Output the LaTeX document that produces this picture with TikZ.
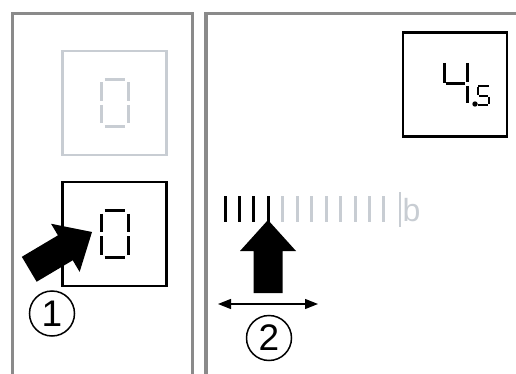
\documentclass[tikz,border=0pt]{standalone}
\usepackage{fontspec}
\setmainfont{Liberation Sans}
\usepackage{tikz}
\usetikzlibrary{arrows.meta}
\definecolor{frameGray}{RGB}{138,138,138}
\definecolor{ledGray}{RGB}{200,205,211}

% seven segment zero, centred on #1
\newcommand{\ledzero}[2]{%
  \begin{scope}[shift={#1}, color=#2, line width=3pt]
    \draw (-10,-23.5) -- (10,-23.5);
    \draw (-10,23.5) -- (10,23.5);
    \draw (-13.5,-20.5) -- (-13.5,-2) (-13.5,2) -- (-13.5,20.5);
    \draw (13.5,-20.5) -- (13.5,-2) (13.5,2) -- (13.5,20.5);
  \end{scope}}
% thick black arrow, tip at #1, turned by #2
\newcommand{\fatarrow}[2]{%
  \fill[shift={#1}, rotate=#2] (0,0) -- (-31,-28) -- (-31,-14.5) -- (-73,-14.5)
    -- (-73,14.5) -- (-31,14.5) -- (-31,28) -- cycle;}

\begin{document}
\begin{tikzpicture}[x=1pt, y=-1pt]
  \tikzset{display/.style={draw, line width=2.5pt, minimum width=104pt, minimum height=104pt, inner sep=0pt},
    step label/.style={draw, circle, line width=1.5pt, minimum size=45pt, inner sep=0pt, font=\fontsize{37}{37}\selectfont},
    frame line/.style={draw=frameGray, line width=3.5pt},
    slide arrow/.style={draw, line width=1.3pt, {Triangle[length=13pt,width=10pt]}-{Triangle[length=13pt,width=10pt]}}}
  \useasboundingbox (0,0) rectangle (516,374);

  % panels
  \draw[frame line] (12.5,380) -- (12.5,13.5) -- (192.5,13.5) -- (192.5,380);
  \draw[frame line] (206,380) -- (206,13.5) -- (520,13.5);

  % left panel
  \node[display, draw=ledGray] (dispOff) at (114.5,103) {};
  \node[display] (dispOn) at (114.5,234) {};
  \ledzero{(dispOff)}{ledGray}
  \ledzero{(dispOn)}{black}
  \fatarrow{(92,232)}{30.7}
  \node[step label] (stepOne) at (52,313.5) {1};

  % right panel
  \node[display] (dispSet) at (455,84.5) {};
  \begin{scope}[shift={(dispSet)}, line width=3pt]
    \draw (-11,-21.5) -- (-11,-1.5);
    \draw (-9.5,-0.5) -- (10,-0.5);
    \draw (12,-21.5) -- (12,-2.5) (12,1.5) -- (12,18.5);
    \fill (20,19.5) circle (2.7);
    \draw[line width=1.4pt] (23,1.5) -- (34,1.5) (23,2.5) -- (23,10.5) (24,11.5) -- (33,11.5)
      (34,12.5) -- (34,19.5) (23,20.5) -- (33,20.5);
  \end{scope}

  \foreach \i in {0,...,3}
    \draw[line width=3pt] (225+14.45*\i,196) -- (225+14.45*\i,222);
  \foreach \i in {4,...,11}
    \draw[line width=3pt, ledGray] (225+14.45*\i,196) -- (225+14.45*\i,222);
  \draw[line width=2pt, ledGray] (400,192) -- (400,227);
  \node[text=ledGray, font=\fontsize{32}{32}\selectfont, inner sep=0pt] (unitB) at (411.5,210) {b};

  \fatarrow{(268,220)}{90}
  \coordinate (slideL) at (218,304);
  \coordinate (slideR) at (318,304);
  \draw[slide arrow] (slideL) -- (slideR);
  \node[step label] (stepTwo) at (269,338) {2};
\end{tikzpicture}
\end{document}
